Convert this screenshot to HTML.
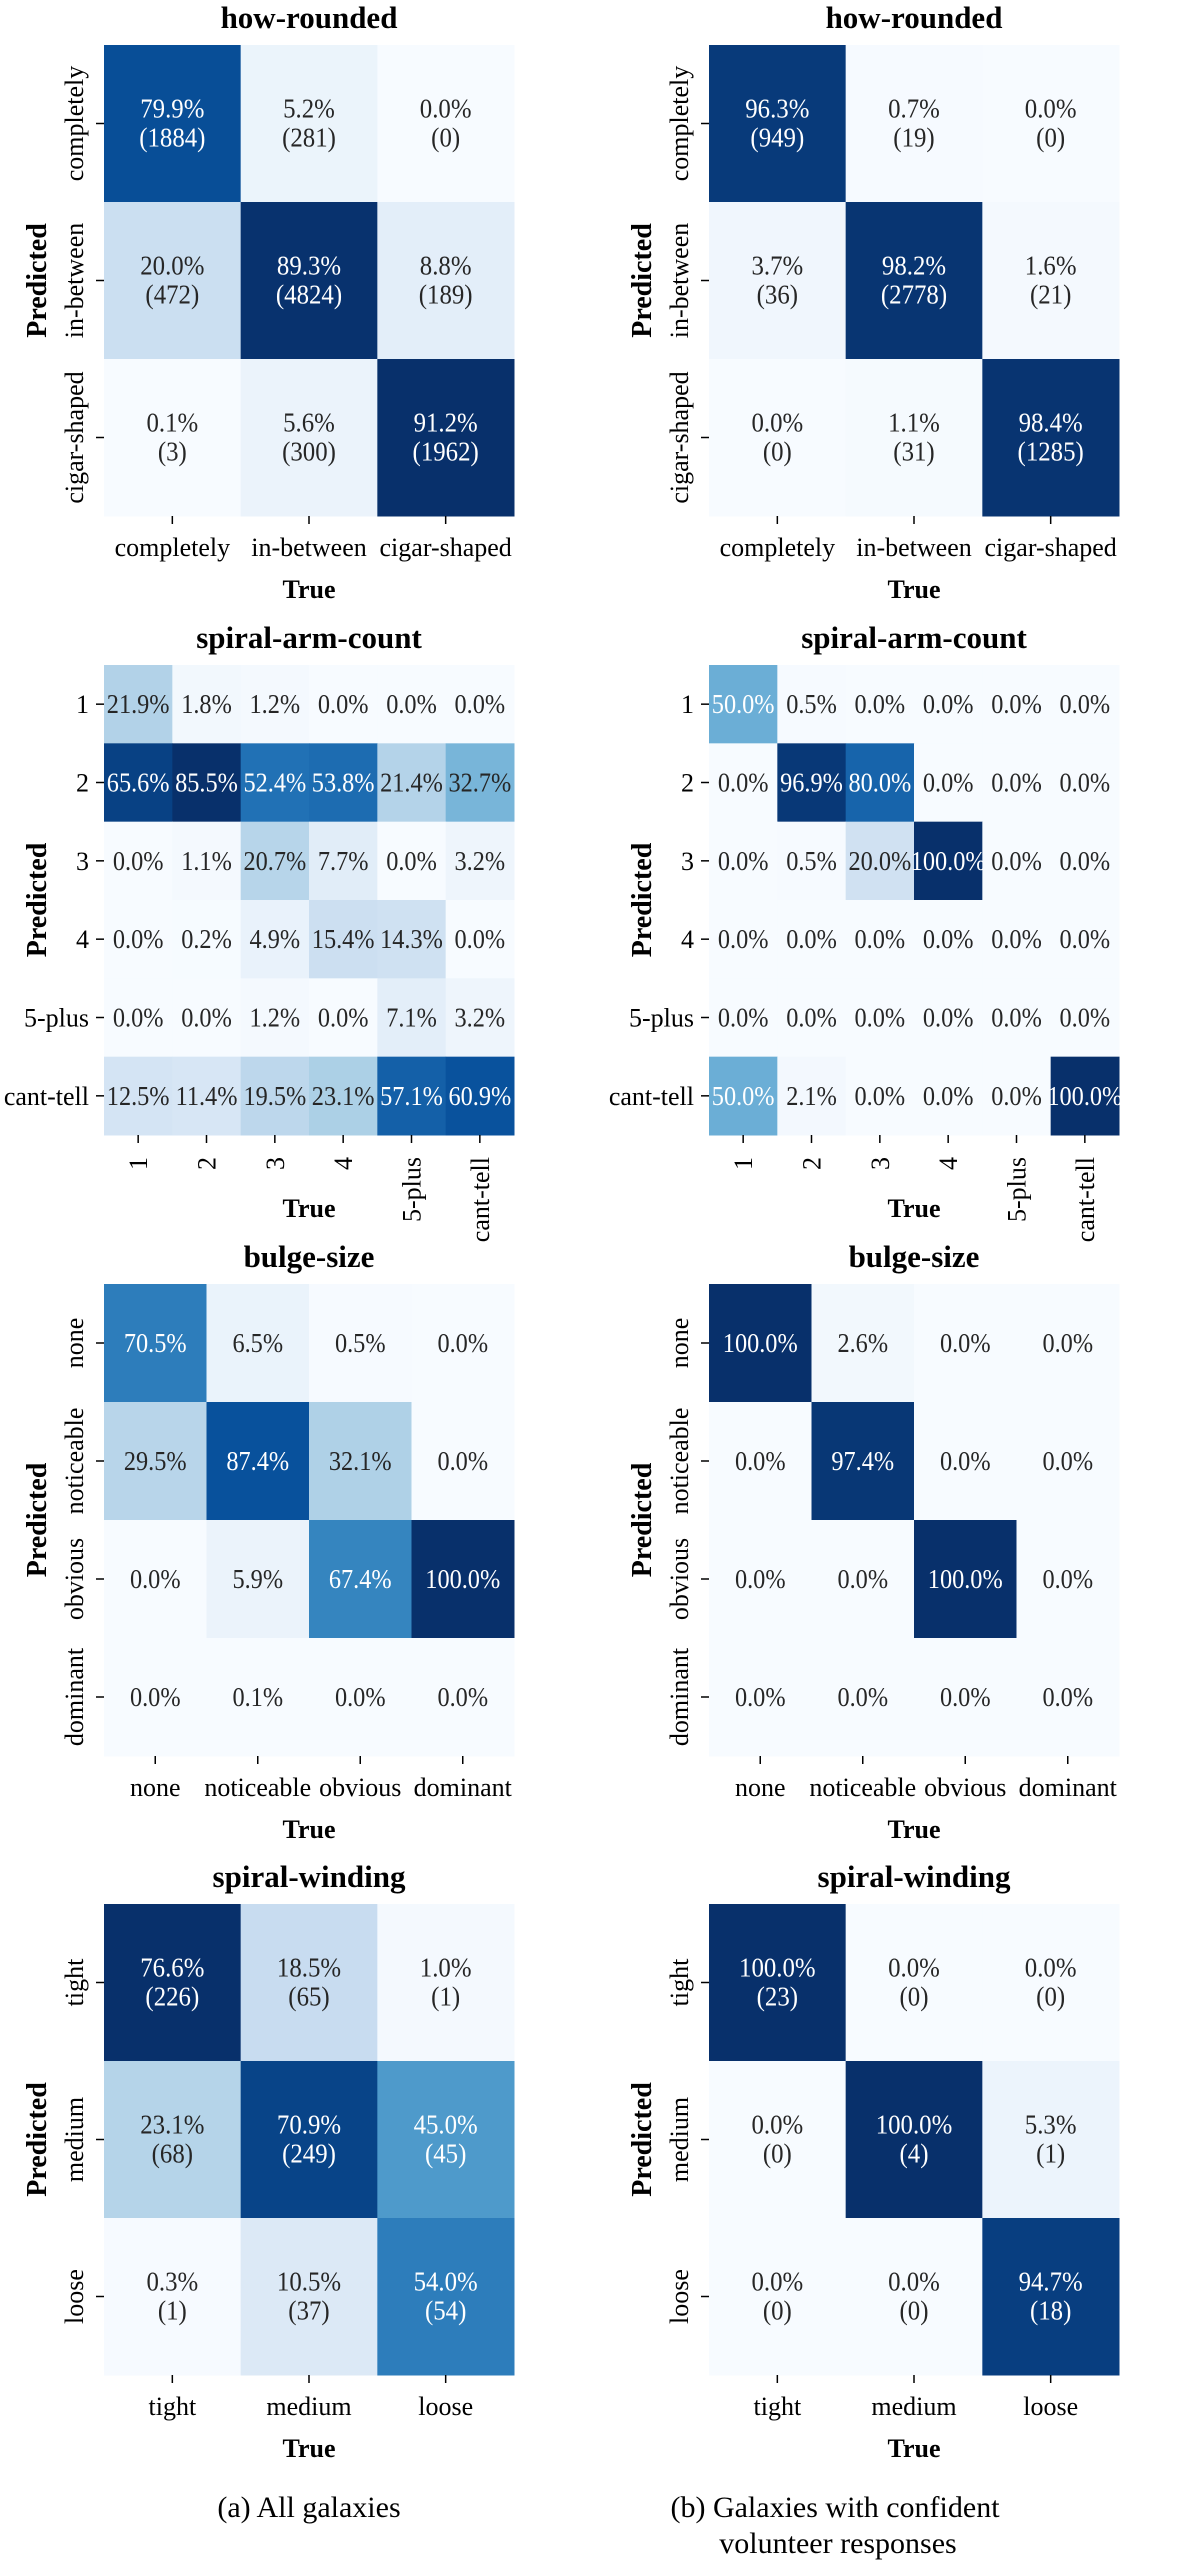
<!DOCTYPE html>
<html><head><meta charset="utf-8">
<style>
html,body{margin:0;padding:0;background:#fff;}
svg{display:block;}
text{font-family:"Liberation Serif",serif;}
</style></head>
<body>
<svg id="fig" width="1200" height="2567" viewBox="0 0 1200 2567" xmlns="http://www.w3.org/2000/svg"></svg>
<script>
// ---- data ----
const hrCats = ["completely","in-between","cigar-shaped"];
const hrPctA = [[79.9,5.2,0.0],[20.0,89.3,8.8],[0.1,5.6,91.2]];
const hrCntA = [[1884,281,0],[472,4824,189],[3,300,1962]];
const hrPctB = [[96.3,0.7,0.0],[3.7,98.2,1.6],[0.0,1.1,98.4]];
const hrCntB = [[949,19,0],[36,2778,21],[0,31,1285]];

const saCats = ["1","2","3","4","5-plus","cant-tell"];
const saPctA = [[21.9,1.8,1.2,0.0,0.0,0.0],[65.6,85.5,52.4,53.8,21.4,32.7],[0.0,1.1,20.7,7.7,0.0,3.2],[0.0,0.2,4.9,15.4,14.3,0.0],[0.0,0.0,1.2,0.0,7.1,3.2],[12.5,11.4,19.5,23.1,57.1,60.9]];
const saPctB = [[50.0,0.5,0.0,0.0,0.0,0.0],[0.0,96.9,80.0,0.0,0.0,0.0],[0.0,0.5,20.0,100.0,0.0,0.0],[0.0,0.0,0.0,0.0,0.0,0.0],[0.0,0.0,0.0,0.0,0.0,0.0],[50.0,2.1,0.0,0.0,0.0,100.0]];

const bsCats = ["none","noticeable","obvious","dominant"];
const bsPctA = [[70.5,6.5,0.5,0.0],[29.5,87.4,32.1,0.0],[0.0,5.9,67.4,100.0],[0.0,0.1,0.0,0.0]];
const bsPctB = [[100.0,2.6,0.0,0.0],[0.0,97.4,0.0,0.0],[0.0,0.0,100.0,0.0],[0.0,0.0,0.0,0.0]];

const swCats = ["tight","medium","loose"];
const swPctA = [[76.6,18.5,1.0],[23.1,70.9,45.0],[0.3,10.5,54.0]];
const swCntA = [[226,65,1],[68,249,45],[1,37,54]];
const swPctB = [[100.0,0.0,0.0],[0.0,100.0,5.3],[0.0,0.0,94.7]];
const swCntB = [[23,0,0],[0,4,1],[0,0,18]];

// ---- drawing ----
const NS = "http://www.w3.org/2000/svg";
const svg = document.getElementById('fig');
const stops = ["#f7fbff","#deebf7","#c6dbef","#9ecae1","#6baed6","#4292c6","#2171b5","#08519c","#08306b"];
function hex(h){return [1,3,5].map(i=>parseInt(h.substr(i,2),16));}
function blues(t){
  t=Math.max(0,Math.min(1,t));
  const p=t*(stops.length-1), i=Math.min(Math.floor(p),stops.length-2), f=p-i;
  const a=hex(stops[i]), b=hex(stops[i+1]);
  return "rgb("+a.map((v,k)=>Math.round(v+(b[k]-v)*f)).join(",")+")";
}
function mk(tag, attrs, parent){
  const e=document.createElementNS(NS,tag);
  for(const k in attrs) e.setAttribute(k,attrs[k]);
  (parent||svg).appendChild(e);
  return e;
}
function txt(str, x, y, opts, parent){
  const t=mk('text',{x:0,y:0,'font-size':opts.size||26,'text-anchor':opts.anchor||'middle',
    fill:opts.fill||'#000','font-weight':opts.bold?'bold':'normal',
    transform:'translate('+x+','+y+')'+(opts.rot?' rotate(-90)':'')+(opts.sx?' scale('+opts.sx+',1)':'')},parent);
  t.textContent=str;
  return t;
}

function heatmap(cfg){
  const g=mk('g',{});
  
  
  const n=cfg.cats.length, W=410, H=cfg.height;
  const cw=W/n, ch=H/n;
  const xPos=i=>cfg.x+i*cw, yPos=j=>cfg.y+j*ch;
  const title=txt(cfg.title, cfg.x+W/2, cfg.y-17, {size:31,bold:true}, g);
  
  
  for(let r=0;r<n;r++){
    for(let c=0;c<n;c++){
      const v=cfg.pct[r][c], t=v/cfg.vmax;
      const rect=mk('rect',{x:xPos(c),y:yPos(r),width:cw+0.5,height:ch+0.5,fill:blues(t)},g);
      
      
      const col=t>=0.5?'#ffffff':'#262626';
      const cx=xPos(c)+cw/2, cy=yPos(r)+ch/2;
      if(cfg.cnt){
        const a=txt(v.toFixed(1)+'%', cx, cy-6, {size:27,fill:col,sx:0.92}, g);
        
        
        const b=txt('('+cfg.cnt[r][c]+')', cx, cy+23, {size:27,fill:col,sx:0.92}, g);
        
        
      } else {
        const a=txt(v.toFixed(1)+'%', cx, cy+9, {size:27,fill:col,sx:0.9}, g);
        
        
      }
    }
  }
  // ticks and labels
  const bottom=cfg.y+H;
  for(let i=0;i<n;i++){
    const cy=yPos(i)+ch/2, cx=xPos(i)+cw/2;
    mk('line',{x1:cfg.x-8,y1:cy,x2:cfg.x,y2:cy,stroke:'#000','stroke-width':1.5},g);
    mk('line',{x1:cx,y1:bottom,x2:cx,y2:bottom+8,stroke:'#000','stroke-width':1.5},g);
    let yl, xl;
    if(cfg.rotY){
      yl=txt(cfg.cats[i], cfg.x-21, cy, {size:26,rot:true}, g);
    } else {
      yl=txt(cfg.cats[i], cfg.x-15, cy+9, {size:26,anchor:'end'}, g);
    }
    
    
    if(cfg.rotX){
      xl=txt(cfg.cats[i], cx+9, bottom+22, {size:26,rot:true,anchor:'end'}, g);
    } else {
      xl=txt(cfg.cats[i], cx, bottom+40, {size:26}, g);
    }
    
    
  }
  const xt=txt('True', cfg.x+W/2, bottom+82, {size:26,bold:true}, g);
  
  
  const yt=txt('Predicted', cfg.x-58, cfg.y+H/2, {size:28,bold:true,rot:true}, g);
  
  
}

const LX=104, RX=709;
heatmap({name:'how-rounded-all',title:'how-rounded',cats:hrCats,pct:hrPctA,cnt:hrCntA,vmax:90,x:LX,y:45,height:471,rotY:true});
heatmap({name:'how-rounded-confident',title:'how-rounded',cats:hrCats,pct:hrPctB,cnt:hrCntB,vmax:100,x:RX,y:45,height:471,rotY:true});
heatmap({name:'spiral-arm-count-all',title:'spiral-arm-count',cats:saCats,pct:saPctA,vmax:70,x:LX,y:665,height:470,rotX:true});
heatmap({name:'spiral-arm-count-confident',title:'spiral-arm-count',cats:saCats,pct:saPctB,vmax:100,x:RX,y:665,height:470,rotX:true});
heatmap({name:'bulge-size-all',title:'bulge-size',cats:bsCats,pct:bsPctA,vmax:100,x:LX,y:1284,height:472,rotY:true});
heatmap({name:'bulge-size-confident',title:'bulge-size',cats:bsCats,pct:bsPctB,vmax:100,x:RX,y:1284,height:472,rotY:true});
heatmap({name:'spiral-winding-all',title:'spiral-winding',cats:swCats,pct:swPctA,cnt:swCntA,vmax:76.6,x:LX,y:1904,height:471,rotY:true});
heatmap({name:'spiral-winding-confident',title:'spiral-winding',cats:swCats,pct:swPctB,cnt:swCntB,vmax:100,x:RX,y:1904,height:471,rotY:true});

const ca=txt('(a) All galaxies', 309, 2517, {size:30});


const cb1=txt('(b) Galaxies with confident', 835, 2517, {size:30});


const cb2=txt('volunteer responses', 838, 2553, {size:30});


</script>
</body></html>
